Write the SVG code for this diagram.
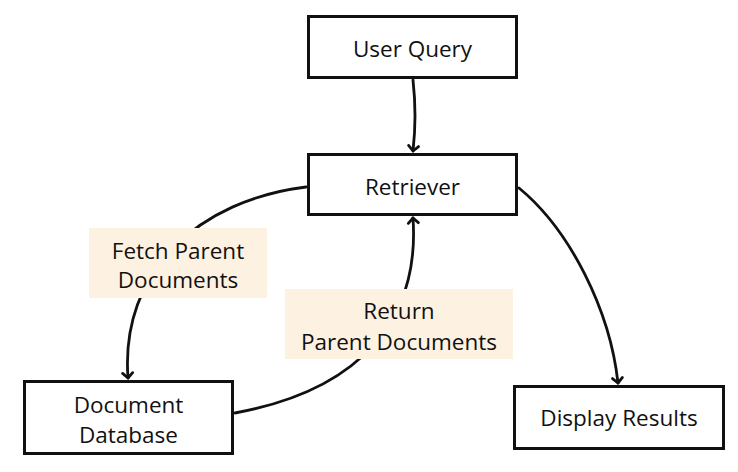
<svg xmlns="http://www.w3.org/2000/svg" width="738" height="472" viewBox="0 0 738 472">
<defs>
<style>
.box{fill:#fff;stroke:#111;stroke-width:3}
.lbl{fill:#fdf2e2}
.t{font-family:"Open Sans","Noto Sans",sans-serif;font-size:22.5px;fill:#111;text-anchor:middle;dominant-baseline:central}
.c{fill:none;stroke:#111;stroke-width:2.8;stroke-linecap:round}
</style>
<marker id="ah" markerWidth="14" markerHeight="14" refX="7" refY="7" orient="auto" markerUnits="userSpaceOnUse">
<path d="M2,2 L7,7 L2,12" fill="none" stroke="#111" stroke-width="2.8" stroke-linecap="round" stroke-linejoin="round"/>
</marker>
</defs>
<rect width="738" height="472" fill="#fff"/>
<g id="connectors">
<path class="c" d="M413,80 Q417,116 413,151" marker-end="url(#ah)"/>
<path class="c" d="M306,187 C200,200 120,270 128,378" marker-end="url(#ah)"/>
<path class="c" d="M235,413 C360,390 420,320 413,218" marker-end="url(#ah)"/>
<path class="c" d="M519,188 C570,230 610,310 618,383" marker-end="url(#ah)"/>
</g>
<g id="label-fetch">
<rect class="lbl" x="89" y="228" width="178" height="70"/>
<text class="t" x="178" y="250">Fetch Parent</text>
<text class="t" x="178" y="279">Documents</text>
</g>
<g id="label-return">
<rect class="lbl" x="285" y="289" width="228" height="70"/>
<text class="t" x="399" y="310">Return</text>
<text class="t" x="399" y="341">Parent Documents</text>
</g>
<g id="user-query">
<rect class="box" x="308.5" y="16.5" width="208" height="61"/>
<text class="t" x="412.5" y="48">User Query</text>
</g>
<g id="retriever">
<rect class="box" x="308.5" y="154.5" width="208" height="60"/>
<text class="t" x="412.5" y="186">Retriever</text>
</g>
<g id="document-database">
<rect class="box" x="24.5" y="381.5" width="208" height="72"/>
<text class="t" x="128.5" y="404">Document</text>
<text class="t" x="128.5" y="434">Database</text>
</g>
<g id="display-results">
<rect class="box" x="514.5" y="386.5" width="209" height="62"/>
<text class="t" x="619" y="417">Display Results</text>
</g>
</svg>
